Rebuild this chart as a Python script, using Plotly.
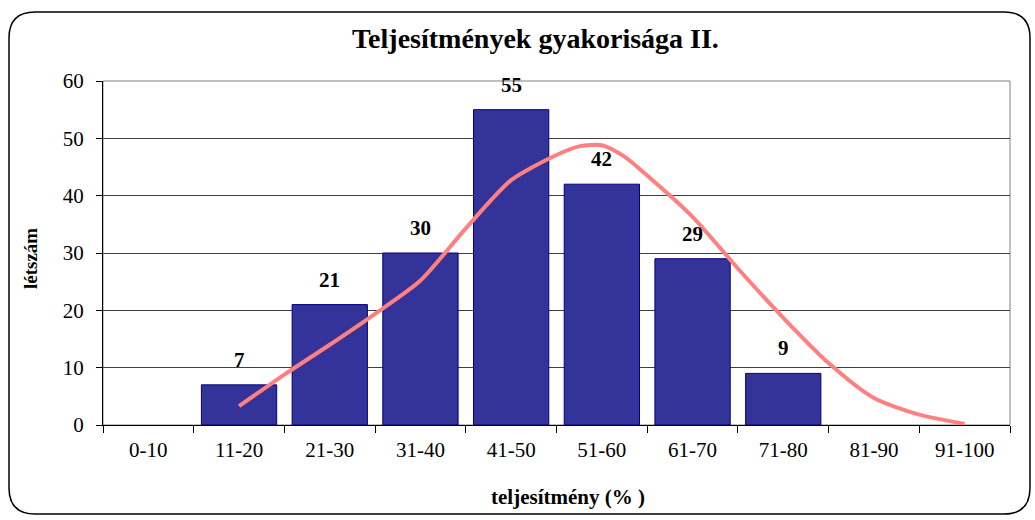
import plotly.graph_objects as go

categories = ["0-10", "11-20", "21-30", "31-40", "41-50", "51-60", "61-70", "71-80", "81-90", "91-100"]
counts = [0, 7, 21, 30, 55, 42, 29, 9, 0, 0]

curve_x = [15, 20, 25, 30, 35, 40, 45, 50, 52.5, 55, 57.5, 60, 65, 70, 75, 80, 85, 90, 95]
curve_y = [3.3, 8.8, 14.0, 19.4, 25.2, 34.3, 42.7, 47.1, 48.6, 48.8, 46.8, 43.5, 36.3, 27.3, 18.7, 10.8, 4.7, 1.8, 0.2]

title_text = "Teljesítmények gyakorisága II."
x_title = "teljesítmény (% )"
y_title = "létszám"

FONT = "Liberation Serif"
W, H = 1035, 520
L, R, T, B = 103, 25, 81, 95
pw, ph = W - L - R, H - T - B

def px(x):
    return (x - L) / pw

def py(y):
    return (H - B - y) / ph

bar_y = [v if v > 0 else None for v in counts]

fig = go.Figure()
fig.add_trace(go.Bar(
    x=categories, y=bar_y,
    marker=dict(color="#333399", line=dict(color="#000080", width=1)),
    xaxis="x", yaxis="y", showlegend=False, hoverinfo="x+y",
))
fig.add_trace(go.Scatter(
    x=curve_x, y=curve_y, mode="lines",
    line=dict(color="#FF8080", width=4, shape="spline", smoothing=0.7),
    xaxis="x2", yaxis="y", showlegend=False,
))

annotations = []
for c, v in zip(categories, counts):
    if v <= 0:
        continue
    annotations.append(dict(
        x=c, y=v, xref="x", yref="y", text="<b>" + str(v) + "</b>", showarrow=False,
        yanchor="bottom", yshift=11,
        font=dict(family=FONT, size=21, color="black"),
    ))
annotations.append(dict(
    x=px(535), y=py(38), xref="paper", yref="paper", text="<b>" + title_text + "</b>",
    showarrow=False, xanchor="center", yanchor="middle",
    font=dict(family=FONT, size=28, color="black"),
))
annotations.append(dict(
    x=px(30), y=py(259), xref="paper", yref="paper", text="<b>" + y_title + "</b>",
    showarrow=False, textangle=-90, xanchor="center", yanchor="middle",
    font=dict(family=FONT, size=19, color="black"),
))
annotations.append(dict(
    x=px(568), y=py(497), xref="paper", yref="paper", text="<b>" + x_title + "</b>",
    showarrow=False, xanchor="center", yanchor="middle",
    font=dict(family=FONT, size=21, color="black"),
))

# outer rounded frame in pixel space converted to paper
x0, x1, y0, y1, r = 9, 1030, 12, 514, 26
def P(x, y):
    return f"{px(x):.5f},{py(y):.5f}"
frame_path = (
    f"M {P(x0 + r, y0)} L {P(x1 - r, y0)} Q {P(x1, y0)} {P(x1, y0 + r)} "
    f"L {P(x1, y1 - r)} Q {P(x1, y1)} {P(x1 - r, y1)} "
    f"L {P(x0 + r, y1)} Q {P(x0, y1)} {P(x0, y1 - r)} "
    f"L {P(x0, y0 + r)} Q {P(x0, y0)} {P(x0 + r, y0)} Z"
)
shapes = [
    dict(type="path", path=frame_path, xref="paper", yref="paper",
         line=dict(color="black", width=1.5), layer="below"),
    dict(type="rect", x0=0, x1=1, y0=0, y1=1, xref="paper", yref="paper",
         line=dict(color="#808080", width=1), layer="below"),
]

fig.update_layout(
    width=W, height=H,
    margin=dict(l=L, r=R, t=T, b=B),
    paper_bgcolor="white", plot_bgcolor="white",
    bargap=0.17,
    font=dict(family=FONT, size=20, color="black"),
    xaxis=dict(
        type="category", range=[-0.5, 9.5], tickson="boundaries",
        ticks="outside", ticklen=7, tickcolor="black", tickwidth=1,
        showline=True, linecolor="black", linewidth=1,
        showgrid=False, zeroline=False,
        tickfont=dict(family=FONT, size=21, color="black"),
        ticklabelstandoff=6,
        fixedrange=True,
    ),
    xaxis2=dict(
        type="linear", range=[0, 100], overlaying="x", visible=False,
        fixedrange=True,
    ),
    yaxis=dict(
        range=[0, 60], dtick=10, tick0=0,
        ticks="outside", ticklen=6, tickcolor="black", tickwidth=1,
        showline=True, linecolor="black", linewidth=1,
        showgrid=True, gridcolor="#404040", gridwidth=1,
        zeroline=False,
        tickfont=dict(family=FONT, size=21, color="black"),
        ticklabelstandoff=8,
        fixedrange=True,
    ),
    annotations=annotations,
    shapes=shapes,
)

fig.write_html(
    "out.html",
    config={"displayModeBar": False},
    post_script="document.body.style.margin='0';document.body.style.overflow='hidden';",
)
